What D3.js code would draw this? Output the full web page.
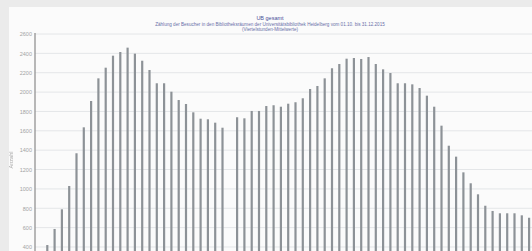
<!DOCTYPE html>
<html>
<head>
<meta charset="utf-8">
<script src="https://cdn.jsdelivr.net/npm/d3@7"></script>
<style>
  html, body { margin: 0; padding: 0; background: #ebebeb; overflow: hidden; }
  svg { display: block; filter: blur(0.45px); }
</style>
</head>
<body>
<div id="chart"></div>
<script>
// time slots (15 min), one slot has no count
var slots = d3.range(67).map(function(i) {
  var m = 8 * 60 + i * 15
  return d3.format("02")(Math.floor(m / 60)) + ":" + d3.format("02")(m % 60)
})

var counts = [
  420, 586, 789, 1030, 1368, 1636, 1908, 2142, 2252, 2376,
  2414, 2459, 2397, 2324, 2228, 2091, 2091, 2004, 1918, 1877,
  1791, 1725, 1719, 1684, 1632, null, 1740, 1729, 1805, 1805,
  1856, 1864, 1849, 1880, 1895, 1936, 2032, 2063, 2142, 2246,
  2290, 2345, 2352, 2342, 2362, 2290, 2235, 2197, 2091, 2091,
  2080, 2042, 1963, 1849, 1653, 1446, 1333, 1171, 1058, 944,
  826, 772, 748, 748, 748, 727, 702
]

var yTicks = d3.range(400, 2601, 200)

var titleLines = [
  "UB gesamt",
  "Zählung der Besucher in den Bibliotheksräumen der Universitätsbibliothek Heidelberg vom 01.10. bis 31.12.2015",
  "(Viertelstunden-Mittelwerte)"
]

var width = 532, height = 251
var margin = {top: 34, left: 35}
var y0 = 285.7

var svg = d3.select("#chart").append("svg")
  .attr("width", width)
  .attr("height", height)

// white panel
svg.append("rect")
  .attr("x", 9).attr("y", 7)
  .attr("width", width).attr("height", height)
  .attr("fill", "#fbfbfb")

var x = d3.scaleBand()
  .domain(slots)
  .range([43.65, 43.65 + 67 * 7.3])
  .paddingInner(0.7)
  .paddingOuter(0.35)

var y = d3.scaleLinear()
  .domain([0, 2600])
  .range([y0, margin.top])

// grid
svg.append("g")
  .selectAll("line")
  .data(yTicks)
  .join("line")
  .attr("x1", margin.left)
  .attr("x2", width)
  .attr("y1", function(d) { return y(d) })
  .attr("y2", function(d) { return y(d) })
  .attr("stroke", "#e4e6e8")
  .attr("stroke-width", 1)

// bars
svg.append("g")
  .selectAll("rect")
  .data(counts.map(function(v, i) { return {slot: slots[i], value: v} })
    .filter(function(d) { return d.value != null }))
  .join("rect")
  .attr("x", function(d) { return x(d.slot) })
  .attr("y", function(d) { return y(d.value) })
  .attr("width", x.bandwidth())
  .attr("height", function(d) { return y0 - y(d.value) })
  .attr("fill", "#8d9297")

// y axis
var yAxis = d3.axisLeft(y)
  .tickValues(yTicks)
  .tickSize(0)
  .tickPadding(3)
  .tickFormat(d3.format("d"))

var gy = svg.append("g")
  .attr("transform", "translate(" + margin.left + ",0)")
  .call(yAxis)

gy.select(".domain").remove()
gy.selectAll("text")
  .attr("fill", "#a3a3a3")
  .style("font-family", "Liberation Sans, Arial, sans-serif")
  .style("font-size", "5.5px")

svg.append("line")
  .attr("x1", margin.left).attr("x2", margin.left)
  .attr("y1", 33).attr("y2", height)
  .attr("stroke", "#8a8a8a")
  .attr("stroke-width", 1.2)

svg.append("text")
  .attr("transform", "translate(13,160) rotate(-90)")
  .attr("text-anchor", "middle")
  .attr("fill", "#aaa")
  .style("font-family", "Liberation Sans, Arial, sans-serif")
  .style("font-size", "5.5px")
  .text("Anzahl")

// title
svg.append("g")
  .selectAll("text")
  .data(titleLines)
  .join("text")
  .attr("x", 270)
  .attr("y", function(d, i) { return 20 + i * 5.5 })
  .attr("text-anchor", "middle")
  .attr("fill", function(d, i) { return i == 0 ? "#4a4f9a" : "#6a6fa8" })
  .style("font-family", "Liberation Sans, Arial, sans-serif")
  .style("font-size", function(d, i) { return i == 0 ? "5.5px" : "4.6px" })
  .text(function(d) { return d })
</script>
</body>
</html>
